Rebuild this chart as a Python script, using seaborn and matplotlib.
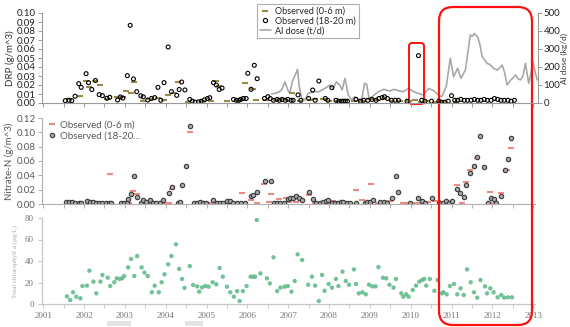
import numpy as np
import seaborn as sns
import matplotlib.pyplot as plt
from matplotlib.lines import Line2D
from matplotlib.patches import FancyBboxPatch, Rectangle

# DRP, top panel
drp_top_yr = [2001.64, 2001.90, 2002.05, 2002.13, 2002.26, 2002.38, 2002.56, 2002.80, 2002.95, 2003.03,
              2003.14, 2003.23, 2003.45, 2003.62, 2003.80, 2003.96, 2004.05, 2004.20, 2004.30, 2004.55,
              2004.92, 2005.10, 2005.22, 2005.30, 2005.50, 2005.80, 2005.95, 2006.13, 2006.20, 2006.45,
              2006.70, 2006.90, 2007.09, 2007.30, 2007.55, 2007.66, 2007.85, 2008.00, 2008.20, 2008.40,
              2008.60, 2008.80, 2009.00, 2009.15, 2009.35, 2009.55, 2009.75, 2009.95, 2010.10, 2010.25,
              2010.40, 2010.60, 2010.80, 2011.10]
drp_top = [0.004, 0.008, 0.024, 0.018, 0.025, 0.020, 0.004, 0.007, 0.007, 0.013,
           0.011, 0.023, 0.002, 0.004, 0.006, 0.003, 0.009, 0.011, 0.023, 0.001,
           0.002, 0.002, 0.024, 0.019, 0.002, 0.002, 0.022, 0.016, 0.003, 0.003,
           0.003, 0.004, 0.011, 0.002, 0.003, 0.005, 0.004, 0.002, 0.002, 0.003,
           0.002, 0.002, 0.005, 0.003, 0.004, 0.002, 0.002, 0.002, 0.003, 0.001,
           0.002, 0.001, 0.001, 0.001]

drp_deep_yr = [2001.54, 2001.63, 2001.70, 2001.78, 2001.87, 2001.93, 2002.05, 2002.11, 2002.19, 2002.28,
               2002.37, 2002.45, 2002.56, 2002.63, 2002.82, 2002.89, 2002.95, 2003.06, 2003.13, 2003.21,
               2003.29, 2003.39, 2003.45, 2003.56, 2003.65, 2003.73, 2003.81, 2003.88, 2003.96, 2004.06,
               2004.14, 2004.27, 2004.33, 2004.39, 2004.47, 2004.59, 2004.65, 2004.72, 2004.80, 2004.87,
               2004.95, 2005.02, 2005.08, 2005.17, 2005.24, 2005.31, 2005.38, 2005.66, 2005.73, 2005.79,
               2005.84, 2005.90, 2005.97, 2006.01, 2006.09, 2006.17, 2006.24, 2006.42, 2006.50, 2006.56,
               2006.64, 2006.73, 2006.78, 2006.85, 2006.93, 2006.99, 2007.07, 2007.12, 2007.24, 2007.31,
               2007.50, 2007.60, 2007.66, 2007.75, 2007.91, 2007.97, 2008.07, 2008.17, 2008.24, 2008.30,
               2008.35, 2008.40, 2008.45, 2008.66, 2008.77, 2008.85, 2008.95, 2009.05, 2009.15, 2009.22,
               2009.30, 2009.36, 2009.43, 2009.53, 2009.62, 2009.70, 2009.91, 2010.19, 2010.27, 2010.35,
               2010.51, 2010.69, 2010.75, 2010.84, 2010.92, 2011.00, 2011.08, 2011.15, 2011.23, 2011.31,
               2011.39, 2011.48, 2011.56, 2011.64, 2011.72, 2011.80, 2011.88, 2011.97, 2012.05, 2012.13,
               2012.21, 2012.29, 2012.38, 2012.46, 2012.54]
drp_deep = [0.0026, 0.003, 0.0026, 0.0075, 0.0215, 0.0174, 0.0326, 0.0226, 0.015, 0.025,
            0.0093, 0.0081, 0.0052, 0.0063, 0.0033, 0.0067, 0.0055, 0.0304, 0.0863, 0.0267,
            0.0126, 0.008, 0.0068, 0.0033, 0.005, 0.006, 0.0174, 0.003, 0.0226, 0.0622,
            0.0126, 0.0085, 0.015, 0.0233, 0.0145, 0.004, 0.002, 0.001, 0.0012, 0.002,
            0.0035, 0.005, 0.0059, 0.0226, 0.020, 0.015, 0.0166, 0.004, 0.003, 0.003,
            0.004, 0.005, 0.005, 0.033, 0.0152, 0.0419, 0.027, 0.005, 0.007, 0.005,
            0.003, 0.004, 0.003, 0.004, 0.003, 0.004, 0.003, 0.003, 0.009, 0.003,
            0.005, 0.0144, 0.003, 0.0244, 0.005, 0.003, 0.017, 0.003, 0.002, 0.002,
            0.002, 0.002, 0.002, 0.004, 0.002, 0.003, 0.003, 0.004, 0.003, 0.005,
            0.006, 0.007, 0.005, 0.003, 0.003, 0.003, 0.002, 0.0526, 0.003, 0.002,
            0.002, 0.002, 0.001, 0.001, 0.002, 0.0081, 0.003, 0.003, 0.004, 0.003,
            0.003, 0.003, 0.004, 0.003, 0.003, 0.004, 0.003, 0.003, 0.005, 0.004,
            0.003, 0.003, 0.003, 0.002, 0.003]

al_yr = [2006.60, 2006.68, 2006.76, 2006.84, 2006.92, 2006.99, 2007.04, 2007.10, 2007.17, 2007.23,
         2007.27, 2007.33, 2007.41, 2007.49, 2007.57, 2007.65, 2007.75, 2007.82, 2007.90, 2008.02,
         2008.10, 2008.18, 2008.26, 2008.32, 2008.39, 2008.47, 2008.55, 2008.63, 2008.72, 2008.80,
         2008.87, 2008.92, 2008.98, 2009.06, 2009.17, 2009.26, 2009.34, 2009.42, 2009.50, 2009.58,
         2009.66, 2009.74, 2009.82, 2009.95, 2010.07, 2010.19, 2010.31, 2010.44, 2010.56, 2010.68,
         2010.76, 2010.87, 2010.97, 2011.05, 2011.15, 2011.23, 2011.34, 2011.40, 2011.46, 2011.51,
         2011.56, 2011.60, 2011.64, 2011.70, 2011.75, 2011.81, 2011.87, 2011.93, 2011.99, 2012.05,
         2012.12, 2012.18, 2012.24, 2012.30, 2012.36, 2012.45, 2012.51, 2012.57, 2012.63, 2012.69,
         2012.75, 2012.81, 2012.89, 2012.94, 2012.99, 2013.05, 2013.10]
al_dose = [50, 54, 60, 72, 118, 72, 54, 118, 155, 187,
           91, 26, 17, 54, 58, 63, 63, 72, 81, 100,
           81, 118, 100, 72, 137, 45, 17, 35, 20, 17,
           110, 105, 26, 35, 57, 68, 76, 70, 67, 75,
           72, 66, 63, 81, 63, 54, 44, 81, 69, 44,
           35, 91, 248, 146, 193, 137, 183, 280, 378, 370,
           387, 375, 368, 320, 257, 240, 220, 215, 202, 190,
           183, 195, 211, 170, 100, 128, 140, 155, 135, 128,
           150, 220, 110, 160, 230, 170, 128]

# Nitrate-N, middle panel
no3_top_yr = [2001.75, 2002.20, 2002.64, 2002.95, 2003.03, 2003.10, 2003.19, 2003.30, 2003.45, 2003.66,
              2003.95, 2004.08, 2004.15, 2004.36, 2004.60, 2005.10, 2005.52, 2005.88, 2006.09, 2006.23,
              2006.40, 2006.52, 2006.58, 2006.78, 2006.95, 2007.03, 2007.20, 2007.27, 2007.50, 2007.66,
              2007.95, 2008.10, 2008.25, 2008.43, 2008.67, 2008.80, 2008.90, 2009.03, 2009.20, 2009.38,
              2009.50, 2009.80, 2009.95, 2010.05, 2010.20, 2010.42, 2010.60, 2010.68, 2010.88, 2011.14,
              2011.26, 2011.36, 2011.46, 2011.62, 2011.94, 2012.04, 2012.22, 2012.37, 2012.45]
no3_top = [0.001, 0.001, 0.042, 0.000, 0.000, 0.001, 0.0185, 0.0135, 0.001, 0.000,
           0.001, 0.001, 0.021, 0.000, 0.101, 0.002, 0.001, 0.0155, 0.005, 0.002,
           0.028, 0.003, 0.014, 0.007, 0.008, 0.003, 0.003, 0.009, 0.0126, 0.001,
           0.002, 0.004, 0.002, 0.002, 0.0195, 0.006, 0.002, 0.028, 0.002, 0.003,
           0.004, 0.001, 0.001, 0.001, 0.002, 0.003, 0.004, 0.004, 0.002, 0.0265,
           0.001, 0.031, 0.048, 0.064, 0.017, 0.002, 0.015, 0.047, 0.0786]

no3_deep_yr = [2001.56, 2001.64, 2001.71, 2001.78, 2001.87, 2001.93, 2002.07, 2002.14, 2002.22, 2002.30,
               2002.37, 2002.45, 2002.53, 2002.60, 2002.67, 2002.91, 2002.97, 2003.04, 2003.07, 2003.15,
               2003.23, 2003.30, 2003.40, 2003.45, 2003.52, 2003.61, 2003.69, 2003.77, 2003.85, 2003.93,
               2004.08, 2004.16, 2004.30, 2004.34, 2004.41, 2004.49, 2004.60, 2004.70, 2004.77, 2004.84,
               2004.91, 2004.98, 2005.17, 2005.25, 2005.33, 2005.41, 2005.51, 2005.57, 2005.65, 2005.75,
               2005.85, 2005.93, 2006.09, 2006.13, 2006.23, 2006.42, 2006.58, 2006.64, 2006.72, 2006.80,
               2006.89, 2006.99, 2007.05, 2007.11, 2007.20, 2007.27, 2007.35, 2007.50, 2007.61, 2007.69,
               2007.77, 2007.85, 2007.92, 2007.98, 2008.07, 2008.15, 2008.23, 2008.30, 2008.35, 2008.43,
               2008.51, 2008.65, 2008.87, 2008.93, 2009.01, 2009.08, 2009.26, 2009.34, 2009.42, 2009.53,
               2009.63, 2009.70, 2009.99, 2010.19, 2010.27, 2010.35, 2010.51, 2010.70, 2010.78, 2010.86,
               2010.94, 2011.00, 2011.14, 2011.20, 2011.30, 2011.36, 2011.46, 2011.54, 2011.62, 2011.70,
               2011.80, 2011.89, 2011.96, 2012.04, 2012.10, 2012.22, 2012.30, 2012.38, 2012.45]
no3_deep = [0.003, 0.003, 0.003, 0.002, 0.002, 0.002, 0.0047, 0.003, 0.003, 0.002,
            0.002, 0.002, 0.002, 0.002, 0.001, 0.001, 0.001, 0.001, 0.0065, 0.014,
            0.039, 0.0093, 0.001, 0.006, 0.003, 0.005, 0.001, 0.001, 0.001, 0.005,
            0.015, 0.0233, 0.001, 0.003, 0.026, 0.053, 0.109, 0.002, 0.002, 0.003,
            0.002, 0.001, 0.006, 0.001, 0.001, 0.001, 0.004, 0.004, 0.001, 0.001,
            0.002, 0.002, 0.011, 0.013, 0.017, 0.032, 0.032, 0.002, 0.002, 0.002,
            0.002, 0.007, 0.008, 0.009, 0.011, 0.009, 0.006, 0.017, 0.007, 0.002,
            0.002, 0.003, 0.004, 0.005, 0.001, 0.002, 0.002, 0.003, 0.003, 0.002,
            0.002, 0.001, 0.002, 0.003, 0.003, 0.006, 0.003, 0.003, 0.002, 0.008,
            0.0395, 0.017, 0.001, 0.009, 0.004, 0.001, 0.009, 0.002, 0.002, 0.004,
            0.001, 0.004, 0.021, 0.016, 0.010, 0.0265, 0.043, 0.053, 0.066, 0.095,
            0.052, 0.001, 0.009, 0.007, 0.001, 0.0116, 0.047, 0.063, 0.092]

# total chlorophyll a, bottom panel
chl_yr = [2001.58, 2001.66, 2001.73, 2001.81, 2001.91, 2001.96, 2002.07, 2002.13, 2002.23, 2002.30,
          2002.40, 2002.45, 2002.58, 2002.64, 2002.74, 2002.80, 2002.87, 2002.93, 2002.98, 2003.08,
          2003.15, 2003.23, 2003.30, 2003.41, 2003.48, 2003.56, 2003.66, 2003.73, 2003.83, 2003.90,
          2003.97, 2004.06, 2004.14, 2004.25, 2004.33, 2004.40, 2004.46, 2004.59, 2004.67, 2004.77,
          2004.82, 2004.89, 2004.97, 2005.05, 2005.15, 2005.24, 2005.32, 2005.40, 2005.50, 2005.58,
          2005.67, 2005.75, 2005.81, 2005.89, 2005.98, 2006.08, 2006.14, 2006.19, 2006.23, 2006.32,
          2006.48, 2006.55, 2006.64, 2006.73, 2006.81, 2006.91, 2006.99, 2007.08, 2007.16, 2007.23,
          2007.34, 2007.49, 2007.58, 2007.66, 2007.75, 2007.83, 2007.89, 2007.99, 2008.07, 2008.17,
          2008.23, 2008.33, 2008.41, 2008.49, 2008.61, 2008.66, 2008.73, 2008.82, 2008.90, 2008.98,
          2009.06, 2009.14, 2009.21, 2009.32, 2009.40, 2009.48, 2009.58, 2009.64, 2009.77, 2009.82,
          2009.89, 2009.95, 2010.05, 2010.13, 2010.21, 2010.28, 2010.33, 2010.38, 2010.47, 2010.58,
          2010.66, 2010.76, 2010.80, 2010.88, 2010.96, 2011.06, 2011.14, 2011.22, 2011.30, 2011.38,
          2011.47, 2011.55, 2011.63, 2011.71, 2011.82, 2011.87, 2011.95, 2012.03, 2012.13, 2012.22,
          2012.29, 2012.38, 2012.48]
chl = [7.1, 3.7, 10.9, 6.8, 5.3, 16.7, 17.1, 31.0, 20.8, 9.9,
       20.8, 27.0, 24.5, 16.7, 20.2, 23.9, 23.3, 23.9, 26.0, 34.1,
       41.9, 26.0, 44.6, 34.0, 29.2, 26.0, 10.9, 17.0, 10.9, 20.2,
       27.6, 36.9, 44.6, 55.5, 32.6, 23.3, 15.0, 35.3, 17.7, 16.4,
       11.5, 15.5, 16.7, 16.1, 20.2, 18.3, 33.5, 25.4, 16.1, 10.9,
       6.8, 12.0, 2.8, 12.0, 16.7, 25.4, 25.4, 25.4, 78.1, 28.5,
       23.9, 19.2, 43.4, 12.0, 15.2, 16.1, 16.7, 11.5, 21.4, 46.2,
       40.9, 17.9, 25.4, 17.1, 2.8, 27.0, 12.3, 18.6, 15.2, 23.3,
       16.7, 30.1, 21.4, 17.9, 32.2, 18.6, 9.9, 10.9, 9.0, 17.9,
       16.4, 16.4, 34.4, 24.4, 23.9, 17.9, 15.2, 23.3, 9.9, 6.8,
       9.0, 6.8, 13.0, 17.1, 20.8, 22.3, 23.3, 17.1, 23.3, 12.3,
       22.3, 9.9, 10.9, 9.0, 16.7, 18.6, 9.0, 14.6, 8.4, 32.2,
       20.2, 10.9, 5.9, 22.3, 16.4, 9.9, 14.6, 10.9, 6.2, 8.4,
       5.9, 6.2, 6.2]

years = list(range(2001, 2014))

sns.set_theme(style="ticks")
plt.rcParams['font.family'] = ['Lato', 'DejaVu Sans']

W, H = 570, 327
fig = plt.figure(figsize=(W / 100, H / 100), dpi=100)
ax1 = fig.add_axes([42 / W, 1 - 103 / H, 496 / W, 90 / H])
ax2 = fig.add_axes([42 / W, 1 - 204 / H, 493 / W, 86 / H])
ax3 = fig.add_axes([42 / W, 1 - 304 / H, 493 / W, 86 / H])

x0 = 2000.97
ax1.set_xlim(x0, x0 + 496 / 40.83)
ax2.set_xlim(x0, x0 + 493 / 40.83)
ax3.set_xlim(x0, x0 + 493 / 40.83)

olive = '#9a8a4a'
salmon = '#ee8a86'
al_grey = '#a8a8a8'
green = '#62bc8c'

# --- top: DRP + Al dose
ax1r = ax1.twinx()
ax1r.set_position(ax1.get_position())
sns.lineplot(x=al_yr, y=al_dose, color=al_grey, linewidth=1.2, ax=ax1r)
ax1r.set_ylim(0, 500)
ax1r.set_yticks(range(0, 501, 100))
ax1.set_zorder(ax1r.get_zorder() + 1)
ax1.patch.set_visible(False)
sns.scatterplot(x=drp_top_yr, y=drp_top, marker='_', s=18, color=olive, linewidth=1.5, ax=ax1)
sns.scatterplot(x=drp_deep_yr, y=drp_deep, marker='o', s=8, facecolor='none',
                edgecolor='black', linewidth=0.8, ax=ax1)
ax1.set_ylim(0, 0.10)
ax1.set_yticks(np.arange(0, 0.101, 0.01))
ax1.set_yticklabels([f'{v:.2f}' for v in np.arange(0, 0.101, 0.01)])
ax1.set_ylabel('DRP (g/m^3)', fontsize=7, labelpad=1, color='#333333')
ax1r.set_ylabel('Al dose (kg/d)', fontsize=6, labelpad=0.5, color='#333333')

for a in (ax1, ax1r, ax2):
    a.set_xticks(np.arange(2001, 2013.01, 0.5))
    a.set_xticklabels([])

for a in (ax1, ax1r):
    for s in a.spines.values():
        s.set_color('#9a9a9a')
        s.set_linewidth(0.8)
    a.spines['top'].set_visible(False)
    a.tick_params(axis='both', length=3, width=0.7, color='#9a9a9a', labelsize=7,
                  labelcolor='#222222', pad=1.5)
ax1r.tick_params(axis='y', pad=1)
ax1.spines['right'].set_visible(False)
ax1r.spines['left'].set_visible(False)
ax1r.spines['bottom'].set_visible(False)

top_handles = [Line2D([], [], ls='none', marker='_', ms=4.5, mew=1.5, color=olive),
               Line2D([], [], ls='none', marker='o', ms=3, mfc='none', mec='black', mew=0.8),
               Line2D([], [], color=al_grey, lw=1.2)]
leg1 = fig.legend(top_handles, ['Observed (0-6 m)', 'Observed (18-20 m)', 'Al dose (t/d)'],
                  loc='upper left', bbox_to_anchor=(257 / W, 1 - 4 / H), fontsize=6.6,
                  frameon=True, fancybox=False, edgecolor='#9a9a9a', handlelength=1.2,
                  handletextpad=0.5, borderpad=0.3, labelspacing=0.1, borderaxespad=0)
leg1.get_frame().set_linewidth(0.8)

# --- middle: nitrate
sns.scatterplot(x=no3_top_yr, y=no3_top, marker='_', s=20, color=salmon, linewidth=1.5, ax=ax2)
sns.scatterplot(x=no3_deep_yr, y=no3_deep, marker='o', s=10, color='#a8a8a8',
                edgecolor='#3a3a3a', linewidth=0.8, ax=ax2)
ax2.set_ylim(0, 0.12)
ax2.set_yticks(np.arange(0, 0.121, 0.02))
ax2.set_yticklabels([f'{v:.2f}' for v in np.arange(0, 0.121, 0.02)])
ax2.set_ylabel('Nitrate-N (g/m^3)', fontsize=7, labelpad=2, color='#595959')
for s in ax2.spines.values():
    s.set_color('#b0b0b0')
    s.set_linewidth(0.8)
ax2.spines['top'].set_visible(False)
ax2.spines['right'].set_visible(False)
ax2.tick_params(axis='both', length=3, width=0.7, color='#b0b0b0', labelsize=7,
                labelcolor='#595959', pad=1.5)
mid_handles = [Line2D([], [], ls='none', marker='_', ms=4.5, mew=1.5, color=salmon),
               Line2D([], [], ls='none', marker='o', ms=3.2, mfc='#a8a8a8', mec='#3a3a3a', mew=0.8)]
ax2.legend(mid_handles, ['Observed (0-6 m)', 'Observed (18-20...'], loc='upper left',
           bbox_to_anchor=(0.0, 1.04), frameon=False, fontsize=7, labelcolor='#595959',
           handlelength=0.8, handletextpad=0.4, labelspacing=0.25, borderaxespad=0.2)

# --- bottom: chlorophyll
sns.scatterplot(x=chl_yr, y=chl, marker='o', s=10, color=green, edgecolor='none',
                alpha=0.9, ax=ax3)
ax3.set_ylim(0, 80)
ax3.set_yticks(range(0, 81, 20))
ax3.set_xticks(years)
ax3.set_xticks(np.arange(2001.5, 2013, 1.0), minor=True)
ax3.set_xticklabels([str(y) for y in years])
ax3.set_ylabel('Total chlorophyll a (µg/L)', fontsize=5, labelpad=5, color='#aaaaaa')
for s in ax3.spines.values():
    s.set_color('#c8c8c8')
    s.set_linewidth(0.9)
ax3.spines['top'].set_visible(False)
ax3.spines['right'].set_visible(False)
ax3.tick_params(axis='both', which='both', length=3, width=0.7, color='#c8c8c8')
ax3.tick_params(axis='both', which='major', labelsize=6.5, labelcolor='#777777', pad=3)
for lab in ax3.get_xticklabels() + ax3.get_yticklabels():
    lab.set_family(['Liberation Serif', 'DejaVu Serif'])
ax3.yaxis.label.set_family(['Liberation Serif', 'DejaVu Serif'])

for a in (ax1, ax2, ax3):
    a.set_xlabel('')

# faint smudges below the year labels
for sx, sw in [(1.07, 0.24), (1.85, 0.18)]:
    fig.add_artist(Rectangle((sx, 0.01), sw, 0.055, transform=fig.dpi_scale_trans,
                             facecolor='#e4e4e4', edgecolor='none'))

# red highlight boxes
fig.add_artist(FancyBboxPatch((4.39, 0.02), 0.93, 3.18, boxstyle='round,pad=0,rounding_size=0.14',
                              transform=fig.dpi_scale_trans, facecolor='none',
                              edgecolor='#ff1010', linewidth=1.6))
fig.add_artist(FancyBboxPatch((4.09, 2.23), 0.15, 0.61, boxstyle='round,pad=0,rounding_size=0.03',
                              transform=fig.dpi_scale_trans, facecolor='none',
                              edgecolor='#ff1010', linewidth=1.4))

fig.savefig('out.png', dpi=100, facecolor='white')
